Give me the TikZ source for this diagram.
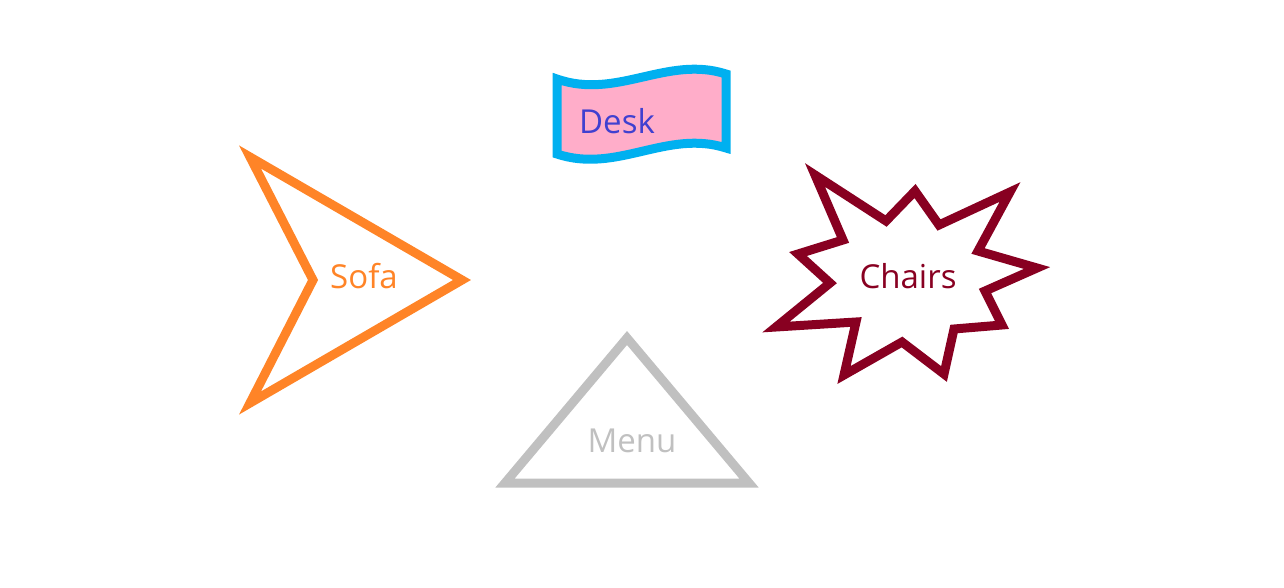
\documentclass[tikz,border=0pt]{standalone}
\usepackage{fontspec}
\setmainfont{Open Sans}
\definecolor{deskfill}{RGB}{255,173,201}
\definecolor{deskline}{RGB}{0,176,240}
\definecolor{desktext}{RGB}{64,64,208}
\definecolor{sofacol}{RGB}{255,132,39}
\definecolor{chaircol}{RGB}{136,0,33}
\definecolor{menucol}{RGB}{192,192,192}
\tikzset{
  shapeline/.style={line width=9pt, line join=miter, miter limit=20},
  lbl/.style={font=\fontsize{33}{36}\selectfont, inner sep=0pt, anchor=center}
}
\begin{document}
\begin{tikzpicture}[x=1pt,y=-1pt]
\useasboundingbox (0,0) rectangle (1284,588);
% Desk (wave)
\draw[shapeline, draw=deskline, fill=deskfill]
  (557,79) .. controls (617,100) and (667,55) .. (726,74)
  -- (726,148) .. controls (667,129) and (617,174) .. (557,154) -- cycle;
\node[lbl, text=desktext] (desk) at (617,121) {Desk};
% Sofa (chevron)
\draw[shapeline, draw=sofacol] (250,157) -- (462,280) -- (250,403) -- (313,280) -- cycle;
\node[lbl, text=sofacol] (sofa) at (364,276) {Sofa};
% Chairs (explosion)
\draw[shapeline, draw=chaircol]
  (815,175) -- (886,221) -- (915,191) -- (939,225) -- (1010,192)
  -- (978,251) -- (1037,268) -- (985,291) -- (1002,325) -- (954,329)
  -- (944,374) -- (902,342) -- (844,375) -- (856,322) -- (776,327)
  -- (830,283) -- (798,254) -- (843,240) -- cycle;
\node[lbl, text=chaircol] (chairs) at (908,276) {Chairs};
% Menu (triangle)
\draw[shapeline, draw=menucol] (627,338) -- (749,483) -- (505,483) -- cycle;
\node[lbl, text=menucol] (menu) at (632,441) {Menu};
\end{tikzpicture}
\end{document}
